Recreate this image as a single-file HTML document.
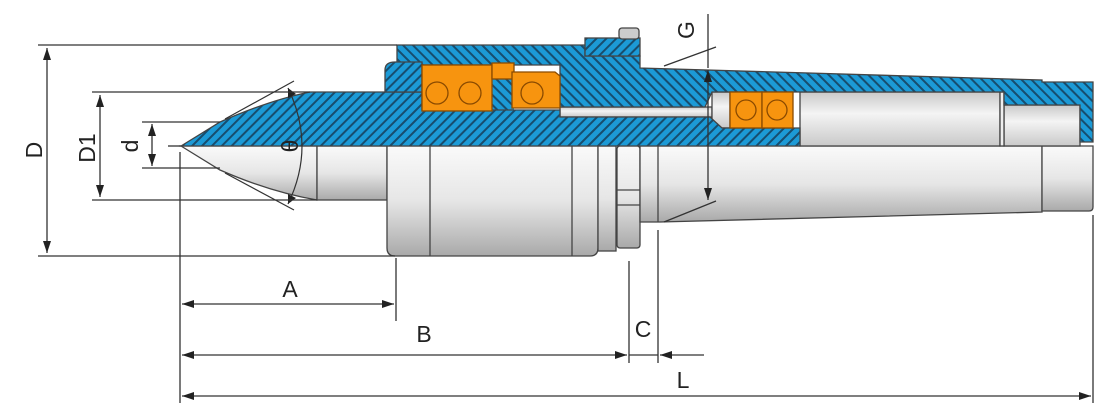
<!DOCTYPE html>
<html><head><meta charset="utf-8"><style>
html,body{margin:0;padding:0;background:#fff;}
svg{display:block;}
text{font-family:"Liberation Sans",sans-serif;font-size:23px;fill:#222;}
</style></head><body>
<svg width="1099" height="412" viewBox="0 0 1099 412" xmlns="http://www.w3.org/2000/svg">
<defs>
<pattern id="h" patternUnits="userSpaceOnUse" width="7" height="7" patternTransform="rotate(45)">
<rect width="7" height="7" fill="#1c9ad6"/>
<rect width="2" height="7" fill="#174d6e"/>
</pattern>
<pattern id="h2" patternUnits="userSpaceOnUse" width="7" height="7" patternTransform="rotate(-45)">
<rect width="7" height="7" fill="#1c9ad6"/>
<rect width="2" height="7" fill="#174d6e"/>
</pattern>
<linearGradient id="g" x1="0" y1="0" x2="0" y2="1">
<stop offset="0" stop-color="#fafafa"/><stop offset="0.5" stop-color="#e6e6e6"/><stop offset="1" stop-color="#a9a9a9"/>
</linearGradient>
<linearGradient id="g2" x1="0" y1="0" x2="0" y2="1">
<stop offset="0" stop-color="#c9c9c9"/><stop offset="0.4" stop-color="#f4f4f4"/><stop offset="1" stop-color="#c9c9c9"/>
</linearGradient>
<marker id="a" markerWidth="12" markerHeight="8" refX="12" refY="4" orient="auto-start-reverse" markerUnits="userSpaceOnUse">
<path d="M0,0 L12,4 L0,8 z" fill="#222"/></marker>
</defs>

<g stroke="#444" stroke-width="1.3">
<!-- lower gray bodies -->
<path d="M181,146 L220,170 Q270,192 317,200 L317,146 z" fill="url(#g)"/>
<rect x="317" y="146" width="70" height="54" fill="url(#g)"/>
<path d="M387,146 H598 V248 Q598,256 590,256 H395 Q387,256 387,248 z" fill="url(#g)"/>
<line x1="430" y1="146" x2="430" y2="256"/>
<line x1="572" y1="146" x2="572" y2="256"/>
<rect x="598" y="146" width="18" height="105" fill="url(#g)"/>
<rect x="617" y="146" width="23" height="102" rx="3" fill="url(#g)"/>
<line x1="617" y1="190" x2="640" y2="190"/><line x1="617" y1="205" x2="640" y2="205"/>
<path d="M640,146 H1042 V212 L660,222 H640 z" fill="url(#g)"/>
<line x1="658" y1="146" x2="658" y2="222"/>
<path d="M1042,146 H1093 V207 Q1093,211 1089,211 H1042 z" fill="url(#g)"/>
<!-- inner gray cavities -->
<rect x="560" y="107" width="152" height="10" fill="url(#g2)"/>
<rect x="712" y="92" width="18" height="36" fill="url(#g2)"/>
<rect x="800" y="92" width="200" height="54" fill="url(#g2)"/>
<rect x="1004" y="105" width="76" height="41" fill="url(#g2)"/>
<rect x="1000" y="92" width="4" height="54" fill="#eee"/>

<!-- blue sections -->
<rect x="492" y="65" width="22" height="46" fill="url(#h2)" stroke="none"/>
<path d="M181,146 L220,122 Q270,100 310,92 H422 V110 H560 V117 H710 L722,128 H800 V146 z" fill="url(#h)"/>
<path d="M397,45 H585 V56 H640 V68 L1042,80 V82 H1093 V142 H1080 V105 H1004 V92 H712 L705,107 H560 V65 H422 V92 H397 z" fill="url(#h2)"/>
<path d="M385,92 V70 Q385,62 395,62 H422 V92 z" fill="url(#h)"/>
<rect x="585" y="38" width="55" height="18" fill="url(#h)"/>
<rect x="619" y="28" width="20" height="11" rx="3" fill="#ccc"/>

<!-- bearings -->
<g fill="#f7940f" stroke="#8a4a00">
<rect x="422" y="65" width="70" height="46"/>
<rect x="492" y="63" width="22" height="16"/>
<path d="M512,72 H555 L560,76 V108 H512 z"/>
<rect x="730" y="92" width="32" height="36"/>
<rect x="762" y="92" width="31" height="36"/>
<circle cx="437" cy="93" r="11"/><circle cx="470" cy="93" r="11"/>
<circle cx="532" cy="93" r="11"/>
<circle cx="746" cy="110" r="10"/><circle cx="777" cy="110" r="10"/>
</g>
</g>

<!-- cone angle lines -->
<g stroke="#333" stroke-width="1.2" fill="none">
<line x1="225" y1="119" x2="294" y2="81"/>
<line x1="225" y1="173" x2="294" y2="210"/>
<path d="M288,88 Q316,146 288,204"/>
</g>
<path d="M288,88 l8,6 l-8,4z M288,204 l8,-6 l-8,-4z" fill="#222"/>
<text x="0" y="0" transform="translate(298,146) rotate(-90)" text-anchor="middle">θ</text>

<!-- dimension lines -->
<g stroke="#333" stroke-width="1.3" fill="none">
<line x1="38" y1="45" x2="397" y2="45"/>
<line x1="38" y1="256" x2="395" y2="256"/>
<line x1="47" y1="48" x2="47" y2="253" marker-start="url(#a)" marker-end="url(#a)"/>
<line x1="92" y1="92" x2="310" y2="92"/>
<line x1="92" y1="200" x2="317" y2="200"/>
<line x1="100" y1="95" x2="100" y2="197" marker-start="url(#a)" marker-end="url(#a)"/>
<line x1="142" y1="122" x2="220" y2="122"/>
<line x1="142" y1="168" x2="220" y2="168"/>
<line x1="152" y1="124" x2="152" y2="166" marker-start="url(#a)" marker-end="url(#a)"/>
<line x1="168" y1="146" x2="181" y2="146"/>
<line x1="180" y1="152" x2="180" y2="403"/>
<line x1="396" y1="258" x2="396" y2="321"/>
<line x1="629" y1="261" x2="629" y2="363"/>
<line x1="658" y1="230" x2="658" y2="363"/>
<line x1="1093" y1="215" x2="1093" y2="403"/>
<line x1="182" y1="304" x2="394" y2="304" marker-start="url(#a)" marker-end="url(#a)"/>
<line x1="182" y1="355" x2="627" y2="355" marker-start="url(#a)" marker-end="url(#a)"/>
<line x1="629" y1="355" x2="658" y2="355"/>
<line x1="660" y1="355" x2="704" y2="355" marker-start="url(#a)"/>
<line x1="182" y1="396" x2="1091" y2="396" marker-start="url(#a)" marker-end="url(#a)"/>
<line x1="708" y1="14" x2="708" y2="68"/>
<line x1="708" y1="70" x2="708" y2="200" marker-start="url(#a)" marker-end="url(#a)"/>
<line x1="664" y1="66" x2="716" y2="47"/>
<line x1="664" y1="222" x2="716" y2="201"/>
</g>

<text transform="translate(42,150) rotate(-90)" text-anchor="middle">D</text>
<text transform="translate(95,148) rotate(-90)" text-anchor="middle">D1</text>
<text transform="translate(138,146) rotate(-90)" text-anchor="middle">d</text>
<text transform="translate(694,30) rotate(-90)" text-anchor="middle">G</text>
<text x="290" y="297" text-anchor="middle">A</text>
<text x="424" y="342" text-anchor="middle">B</text>
<text x="643" y="337" text-anchor="middle">C</text>
<text x="683" y="388" text-anchor="middle">L</text>
</svg>
</body></html>
